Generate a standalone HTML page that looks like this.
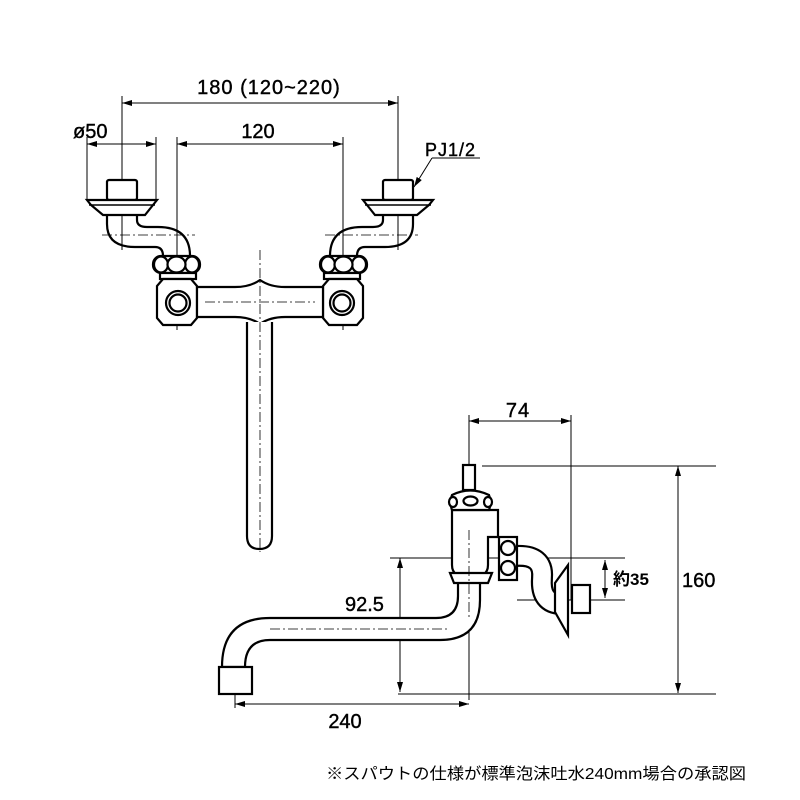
<!DOCTYPE html>
<html><head><meta charset="utf-8"><style>body{margin:0;background:#fff}svg{display:block}</style></head><body>
<svg width="800" height="800" viewBox="0 0 800 800" xmlns="http://www.w3.org/2000/svg" font-family="Liberation Sans, DejaVu Sans, sans-serif">
<defs>
<marker id="a" viewBox="0 0 10 6" refX="10" refY="3" markerWidth="10" markerHeight="6" orient="auto-start-reverse" markerUnits="userSpaceOnUse"><path d="M0,0L10,3L0,6z" fill="#000"/></marker>
<g id="half" fill="#fff" stroke="#000" stroke-width="2.2">
<rect x="107" y="180" width="30" height="20" rx="2"/>
<path d="M87 200 H157 L153 205 L145 215 H103 L91 205 Z"/>
<line x1="89" y1="205" x2="155" y2="205" stroke-width="1.5"/>
<path d="M107 215 V224 Q107 247 135 247 H155 Q163 247 163 256 M137 215 V220 Q137 227 147 227 H158 Q190 227 190 256" fill="none"/>
<rect x="153" y="256" width="47" height="17" rx="8"/>
<ellipse cx="161" cy="264.5" rx="7" ry="8"/><ellipse cx="192" cy="264.5" rx="7" ry="8"/>
<ellipse cx="176.5" cy="264.5" rx="9" ry="8"/>
<rect x="160" y="273" width="36" height="6"/>
<path d="M163 279 H191 L197 286 V318 L191 325 H163 L157 318 V286 Z"/>
<circle cx="178" cy="303" r="12"/><circle cx="178" cy="303" r="8.5"/>
</g>
</defs>
<g stroke="#000" stroke-width="1" fill="none">
<line x1="122" y1="96" x2="122" y2="250"/><line x1="398" y1="96" x2="398" y2="250"/>
<line x1="122" y1="103" x2="398" y2="103" marker-start="url(#a)" marker-end="url(#a)"/>
<line x1="87" y1="137" x2="87" y2="200"/><line x1="156" y1="137" x2="156" y2="200"/>
<line x1="87" y1="144" x2="156" y2="144" marker-start="url(#a)" marker-end="url(#a)"/>
<line x1="177" y1="137" x2="177" y2="330"/><line x1="343" y1="137" x2="343" y2="330"/>
<line x1="177" y1="144" x2="343" y2="144" marker-start="url(#a)" marker-end="url(#a)"/>
<line x1="432" y1="158" x2="414" y2="187" marker-end="url(#a)"/>
<line x1="432" y1="158" x2="480" y2="158"/>
</g>
<use href="#half"/>
<use href="#half" transform="translate(520 0) scale(-1 1)"/>
<g fill="#fff" stroke="#000" stroke-width="2.2">
<path d="M197 287 H235 Q250 287 260 280 Q270 287 285 287 H323 V317 H285 Q270 317 260 324 Q250 317 235 317 H197 Z"/>
<path d="M247 322 V536 Q247 549 259.5 549 Q272 549 272 536 V322"/>
</g>
<g stroke="#000" stroke-width="0.8" stroke-dasharray="10 3 2 3" fill="none">
<line x1="102" y1="235" x2="195" y2="235"/><line x1="325" y1="235" x2="418" y2="235"/>
<line x1="205" y1="302" x2="315" y2="302"/>
<line x1="260" y1="250" x2="260" y2="552"/>
</g>
<g font-size="20" fill="#000" stroke="#000" stroke-width="0.4">
<text x="269" y="94" text-anchor="middle" letter-spacing="1">180 (120~220)</text>
<text x="73" y="138">ø50</text>
<text x="258" y="138" text-anchor="middle">120</text>
<text x="425" y="156" font-size="18" letter-spacing="1">PJ1/2</text>
</g>
<g stroke="#000" stroke-width="1" fill="none">
<line x1="469" y1="415" x2="469" y2="700"/><line x1="571" y1="415" x2="571" y2="600"/>
<line x1="469" y1="421" x2="571" y2="421" marker-start="url(#a)" marker-end="url(#a)"/>
<line x1="482" y1="466" x2="716" y2="466"/>
<line x1="390" y1="558" x2="625" y2="558"/><line x1="517" y1="600" x2="625" y2="600"/>
<line x1="605" y1="560" x2="605" y2="598" marker-start="url(#a)" marker-end="url(#a)"/>
<line x1="678" y1="466" x2="678" y2="693" marker-start="url(#a)" marker-end="url(#a)"/>
<line x1="398" y1="694" x2="716" y2="694"/>
<line x1="400" y1="558" x2="400" y2="692" marker-start="url(#a)" marker-end="url(#a)"/>
<line x1="235" y1="675" x2="235" y2="708"/>
<line x1="235" y1="704" x2="469" y2="704" marker-start="url(#a)" marker-end="url(#a)"/>
</g>
<g fill="none">
<path d="M515 556 Q544 554 542 578 Q540 604 562 604" stroke="#000" stroke-width="22"/>
<path d="M515 556 Q544 554 542 578 Q540 604 562 604" stroke="#fff" stroke-width="17.6"/>
</g>
<g fill="#fff" stroke="#000" stroke-width="2.2">
<path d="M270 618 H436 Q458 618 458 596 V582 H480 V600 Q480 640 440 640 H270 Q245 640 245 667 H222 Q222 618 270 618 Z"/>
<rect x="219" y="667" width="33" height="27"/>
<path d="M555 583 L568 565 V635 L555 612 Z"/>
<rect x="572" y="585" width="18" height="28"/>
<rect x="463" y="465" width="12" height="25"/>
<path d="M452 510 V565 Q452 578 470 578 Q488 578 488 565 V537 H498 V510 Z"/>
<rect x="499" y="537" width="18" height="43"/>
<circle cx="508" cy="548" r="7"/><circle cx="508" cy="568" r="7"/>
<path d="M450 573 H492 L488 583 H454 Z"/>
<path d="M452 510 Q449 502 452 495 Q470 486 489 495 Q492 502 489 510 Z"/>
<ellipse cx="453" cy="502" rx="4" ry="5"/><ellipse cx="488" cy="502" rx="4" ry="5"/><ellipse cx="470.5" cy="501" rx="7" ry="4.5"/>
</g>
<g stroke="#000" stroke-width="0.8" stroke-dasharray="10 3 2 3" fill="none">
<line x1="270" y1="629" x2="450" y2="629"/>
<line x1="469" y1="530" x2="469" y2="620"/>
</g>
<g font-size="20" fill="#000" stroke="#000" stroke-width="0.4">
<text x="518" y="417" text-anchor="middle" letter-spacing="1">74</text>
<text x="345" y="611">92.5</text>
<text x="682" y="587">160</text>
<text x="345" y="728" text-anchor="middle">240</text>
</g>
<text x="613" y="585" font-family="Liberation Sans, Noto Sans CJK JP, sans-serif" font-weight="bold" font-size="17">約35</text>
<text x="326" y="779" font-size="16" textLength="420" lengthAdjust="spacingAndGlyphs" font-family="Liberation Sans, Noto Sans CJK JP, sans-serif">※スパウトの仕様が標準泡沫吐水240mm場合の承認図</text>
</svg>
</body></html>
